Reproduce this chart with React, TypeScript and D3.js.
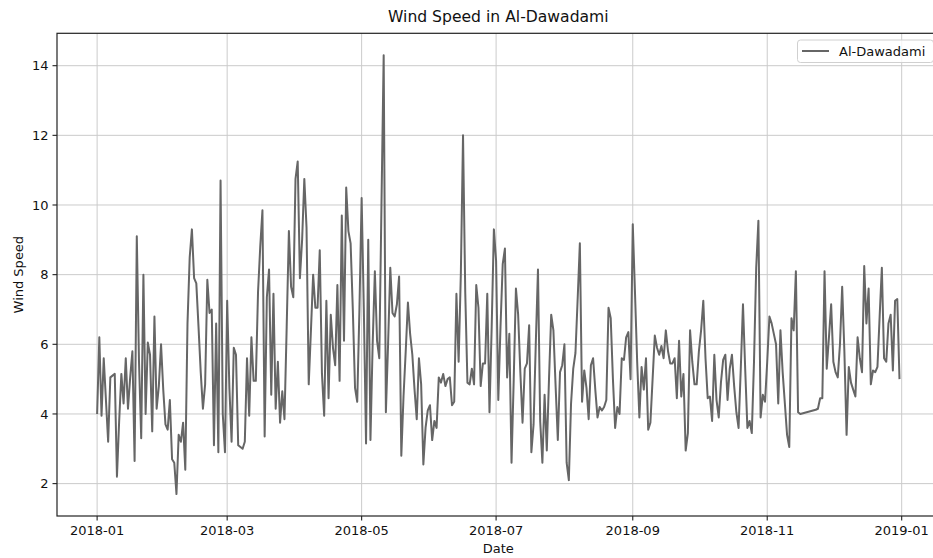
import React from "react";
import * as d3 from "d3";

const TITLE = "Wind Speed in Al-Dawadami";
const SERIES_NAME = "Al-Dawadami";
const X_LABEL = "Date";
const Y_LABEL = "Wind Speed";
const START_DATE = "2018-01-01";
const X_TICKS = ["2018-01-01", "2018-03-01", "2018-05-01", "2018-07-01", "2018-09-01", "2018-11-01", "2019-01-01"];
const Y_TICKS = [2, 4, 6, 8, 10, 12, 14];

// daily wind speed, 2018-01-01 .. 2018-12-31 (null = missing day)
const JAN_FEB_A = [4.0, 6.2, 3.95, 5.6, 4.4, 3.2, 5.05, 5.1, 5.15, 2.2, 3.8, 5.15, 4.3, 5.6, 4.15, 5.05, 5.8, 2.65, 9.1, 5.5, 3.3, 8.0, 4.0, 6.05, 5.7, 3.5, 6.8, 4.15, 4.8, 6.0, 4.7, 3.7, 3.55, 4.4, 2.7, 2.6, 1.7, 3.4, 3.2, 3.75];
const FEB_MAR = [2.4, 6.6, 8.5, 9.3, 7.9, 7.75, 6.5, 5.2, 4.15, 4.85, 7.85, 6.9, 7.0, 3.1, 6.6, 2.9, 10.7, 4.0, 2.9, 7.25, 4.75, 3.2, 5.9, 5.7, 3.1, 3.05, 3.0, 3.2, 5.6, 3.95, 6.2, 4.95, 4.95, 7.5, 8.8, 9.85, 3.35, 7.35, 8.15, 4.55, 7.45, 4.15];
const MAR_MAY = [5.5, 3.75, 4.65, 3.85, 6.5, 9.25, 7.65, 7.35, 10.75, 11.25, 7.9, 9.0, 10.75, 9.35, 4.85, 6.4, 8.0, 7.05, 7.05, 8.7, 5.15, 3.95, 7.25, 4.45, 6.85, 5.9, 5.4, 7.7, 4.95, 9.7, 6.1, 10.5, 9.25, 8.9, 7.0, 4.75, 4.35, 7.0, 10.2, 7.0, 3.15, 9.0];
const MAY_JUN = [3.25, 6.0, 8.1, 6.1, 5.6, 10.0, 14.3, 4.05, 6.0, 8.2, 6.9, 6.8, 7.15, 7.95, 2.8, 4.5, 5.8, 7.2, 6.3, 5.7, 4.7, 3.85, 5.6, 4.85, 2.55, 3.6, 4.1, 4.25, 3.25, 3.8, 3.6, 5.05, 4.9, 5.15, 4.8, 5.0, 5.05, 4.25, 4.35, 7.45, 5.5];
const JUN_JUL = [8.0, 12.0, 7.5, 4.9, 4.85, 5.3, 4.85, 7.7, 7.05, 4.8, 5.45, 5.45, 7.45, 4.05, 6.5, 9.3, 8.4, 4.4, 6.5, 8.3, 8.75, 5.05, 6.3, 2.6, 5.0, 7.6, 6.85, 5.2, 3.75, 5.3, 5.45, 6.55, 2.9, 3.7, 6.0, 8.15, 3.8, 2.6, 4.55, 2.95, 5.0, 6.85];
const JUL_SEP = [6.4, 4.8, 3.25, 5.2, 5.4, 6.0, 2.6, 2.1, 4.3, 5.3, 5.75, 7.3, 8.9, 4.35, 5.25, 4.75, 3.85, 5.4, 5.6, 4.7, 3.9, 4.2, 4.1, 4.2, 4.4, 7.05, 6.75, 5.0, 3.6, 4.2, 4.0, 5.6, 5.55, 6.2, 6.35, 5.0, 9.45, 7.5, 5.5, 3.9, 5.35, 4.7];
const SEP_OCT = [5.6, 3.55, 3.75, 5.0, 6.25, 5.9, 5.7, 5.95, 5.6, 6.4, 5.8, 5.45, 5.45, 5.6, 4.45, 6.1, 4.5, 5.15, 2.95, 3.45, 6.4, 5.5, 4.85, 4.85, 5.8, 6.4, 7.25, 5.6, 4.45, 4.5, 3.8, 5.7, 4.4, 3.9, 4.9, 5.55, 5.7, 4.4, 5.3, 5.7, 4.8, 4.05];
const OCT_NOV = [3.6, 5.3, 7.15, 5.3, 3.6, 3.8, 3.45, 5.5, 8.2, 9.55, 3.9, 4.55, 4.35, 5.5, 6.8, 6.6, 6.3, 6.0, 4.3, 6.4, 5.2, 4.3, 3.4, 3.05, 6.75, 6.4, 8.1, 4.05, 4.0, null, null, null, null, null, null, 4.12, 4.15, 4.45, 4.45, 8.1, 5.3];
const NOV_DEC = [6.2, 7.15, 5.5, 5.2, 5.05, 6.0, 7.65, 5.8, 3.4, 5.35, 4.9, 4.7, 4.5, 6.2, 5.6, 5.2, 8.25, 6.6, 7.6, 4.85, 5.25, 5.2, 5.35, 6.8, 8.2, 5.6, 5.5, 6.6, 6.85, 5.25, 7.25, 7.3, 5.0];

const WIND_SPEED: (number | null)[] = [
  ...JAN_FEB_A, ...FEB_MAR, ...MAR_MAY, ...MAY_JUN, ...JUN_JUL,
  ...JUL_SEP, ...SEP_OCT, ...OCT_NOV, ...NOV_DEC,
];

const W = 933;
const H = 558;
const PL = 57;
const PT = 33.3;
const PR = 939.6;
const PB = 516;
const FONT = "'DejaVu Sans', Verdana, sans-serif";

export default function App() {
  const parse = d3.utcParse("%Y-%m-%d");
  const start = parse(START_DATE) as Date;
  const points = WIND_SPEED.map((v, i) => ({ date: d3.utcDay.offset(start, i), v }))
    .filter((d) => d.v !== null) as { date: Date; v: number }[];

  const [d0, d1] = d3.extent(points, (d) => d.date) as [Date, Date];
  const span = +d1 - +d0;
  const x = d3.scaleUtc()
    .domain([new Date(+d0 - span * 0.05), new Date(+d1 + span * 0.05)])
    .range([PL, PR]);

  const [vMin, vMax] = d3.extent(points, (d) => d.v) as [number, number];
  const vr = vMax - vMin;
  const y = d3.scaleLinear()
    .domain([vMin - vr * 0.05, vMax + vr * 0.05])
    .range([PB, PT]);

  const line = d3.line<{ date: Date; v: number }>()
    .x((d) => x(d.date))
    .y((d) => y(d.v));

  const xTicks = X_TICKS.map((s) => parse(s) as Date);
  const fmt = d3.utcFormat("%Y-%m");
  const cx = (PL + PR) / 2;

  return (
    <div style={{ position: "fixed", left: 0, top: 0, width: W, height: H, background: "#fff" }}>
      <svg width={W} height={H} style={{ display: "block" }} fontFamily={FONT}>
        <rect x={0} y={0} width={W} height={H} fill="#fff" />
        {/* grid */}
        {xTicks.map((t, i) => (
          <line key={"gx" + i} x1={x(t)} x2={x(t)} y1={PT} y2={PB} stroke="#cbcbcb" strokeWidth={1} />
        ))}
        {Y_TICKS.map((t) => (
          <line key={"gy" + t} x1={PL} x2={PR} y1={y(t)} y2={y(t)} stroke="#cbcbcb" strokeWidth={1} />
        ))}
        {/* data line */}
        <path d={line(points) || ""} fill="none" stroke="#666666" strokeWidth={2} strokeLinejoin="round" />
        {/* spines */}
        <rect x={PL} y={PT} width={PR - PL} height={PB - PT} fill="none" stroke="#222" strokeWidth={1.2} />
        {/* x ticks */}
        {xTicks.map((t, i) => (
          <g key={"xt" + i}>
            <line x1={x(t)} x2={x(t)} y1={PB} y2={PB + 4.5} stroke="#222" strokeWidth={1.1} />
            <text x={x(t)} y={PB + 19} fontSize={13} textAnchor="middle" fill="#111">{fmt(t)}</text>
          </g>
        ))}
        {/* y ticks */}
        {Y_TICKS.map((t) => (
          <g key={"yt" + t}>
            <line x1={PL - 4.5} x2={PL} y1={y(t)} y2={y(t)} stroke="#222" strokeWidth={1.1} />
            <text x={PL - 8.5} y={y(t)} dy="0.35em" fontSize={13} textAnchor="end" fill="#111">{t}</text>
          </g>
        ))}
        {/* labels */}
        <text x={cx} y={22} fontSize={15.6} textAnchor="middle" fill="#111">{TITLE}</text>
        <text x={cx} y={553} fontSize={13} textAnchor="middle" fill="#111">{X_LABEL}</text>
        <text transform={`translate(23, ${(PT + PB) / 2}) rotate(-90)`} fontSize={13} textAnchor="middle" fill="#111">{Y_LABEL}</text>
        {/* legend */}
        <g>
          <rect x={797.5} y={40} width={136} height={22.5} rx={3} fill="#fff" fillOpacity={0.8} stroke="#d0d0d0" strokeWidth={1} />
          <line x1={802} x2={829} y1={51} y2={51} stroke="#666666" strokeWidth={2} />
          <text x={839} y={55.5} fontSize={13} fill="#111">{SERIES_NAME}</text>
        </g>
      </svg>
    </div>
  );
}
